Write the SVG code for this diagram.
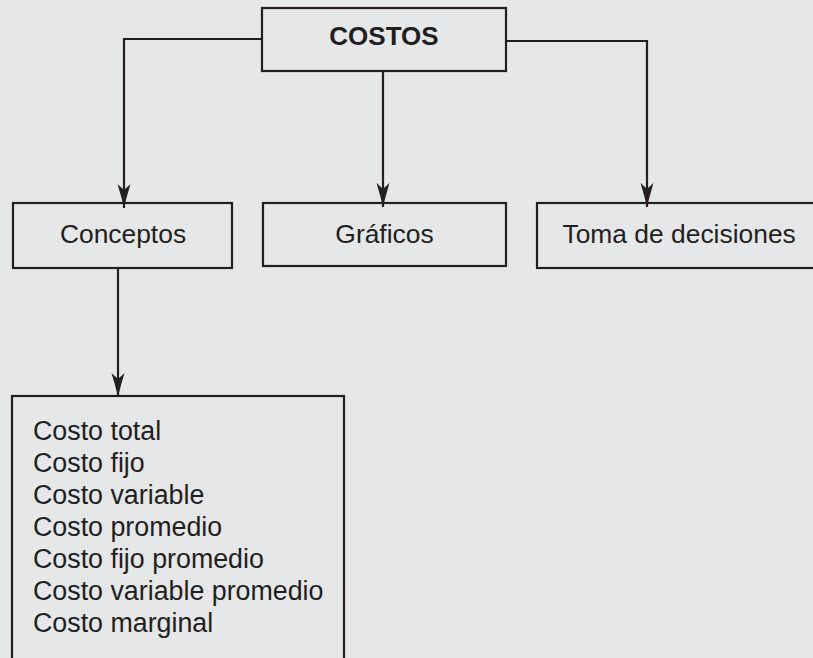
<svg xmlns="http://www.w3.org/2000/svg" width="813" height="658" viewBox="0 0 813 658">
<style>
.box{fill:none;stroke:#231f20;stroke-width:2.2}
.con{fill:none;stroke:#231f20;stroke-width:2.2}
text{font-family:"Liberation Sans",Arial,Helvetica,sans-serif;font-size:26.4px;fill:#231f20}
.c{text-anchor:middle}
.b{font-weight:bold;font-size:26px}
.l{font-size:26.8px}
</style>
<defs>
<marker id="arr" markerUnits="userSpaceOnUse" markerWidth="26" markerHeight="14" viewBox="0 0 26 14" refX="24" refY="7" orient="auto">
<path d="M0,0.5 Q13,4.5 24,7 Q13,9.5 0,13.5 L6,7 z" fill="#231f20"/>
</marker>
</defs>
<rect width="813" height="658" fill="#e6e7e8"/>
<g id="connectors">
<path class="con" d="M262,39 H124 V208" marker-end="url(#arr)"/>
<path class="con" d="M383,71 V207" marker-end="url(#arr)"/>
<path class="con" d="M506,41 H647 V207" marker-end="url(#arr)"/>
<path class="con" d="M118,268 V397" marker-end="url(#arr)"/>
</g>
<g id="costos">
<rect class="box" x="262" y="8" width="244" height="63"/>
<text class="c b" x="384" y="45">COSTOS</text>
</g>
<g id="conceptos">
<rect class="box" x="13" y="203" width="219" height="65"/>
<text class="c" x="123" y="243">Conceptos</text>
</g>
<g id="graficos">
<rect class="box" x="263" y="203" width="243" height="63"/>
<text class="c" x="384.5" y="243">Gráficos</text>
</g>
<g id="toma">
<rect class="box" x="537" y="203" width="290" height="65"/>
<text x="562.5" y="243">Toma de decisiones</text>
</g>
<g id="lista">
<rect class="box" x="12" y="396" width="332" height="290"/>
<text class="l" x="33" y="440">Costo total</text>
<text class="l" x="33" y="472">Costo fijo</text>
<text class="l" x="33" y="504">Costo variable</text>
<text class="l" x="33" y="536">Costo promedio</text>
<text class="l" x="33" y="568">Costo fijo promedio</text>
<text class="l" x="33" y="600">Costo variable promedio</text>
<text class="l" x="33" y="632">Costo marginal</text>
</g>
</svg>
